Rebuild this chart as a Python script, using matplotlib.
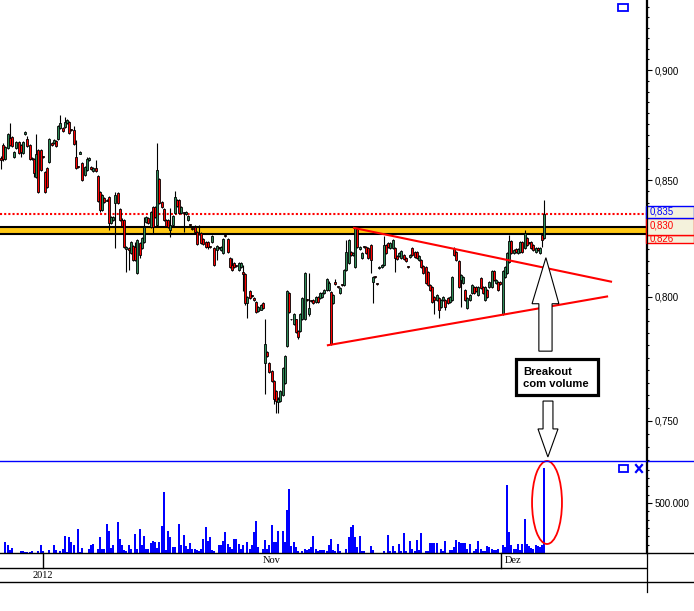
import matplotlib
matplotlib.use('Agg')
import matplotlib.pyplot as plt
import matplotlib.transforms as mtransforms
from matplotlib.patches import Rectangle, Polygon, Ellipse
from matplotlib.lines import Line2D
from matplotlib.ticker import FixedLocator, FuncFormatter, NullFormatter
import numpy as np

# ---- candle data (price) ----
opens = [
    .8598, .8656, .8593, .8643, .8687, .8692, .8602, .8643, .8669, .8656,
    .8620, .8706, .8683, .8656, .8598, .8593, .8513, .8634, .8634, .8605,
    .8535, .8553, .8580, .8665, .8665, .8674, .8683, .8733, .8733, .8737,
    .8755, .8760, .8726, .8724, .8602, .8559, .8618, .8576, .8522, .8544,
    .8589, .8557, .8540, .8553, .8518, .8447, .8369, .8421, .8414, .8425,
    .8313, .8326, .8399, .8443, .8373, .8326, .8326, .8201, .8205, .8184,
    .8214, .8209, .8100, .8227, .8205, .8231, .8317, .8335, .8296, .8382,
    .8382, .8304, .8504, .8404, .8373, .8326, .8326, .8283, .8304, .8356,
    .8412, .8412, .8356, .8358, .8352, .8326, .8306, .8289, .8296, .8274,
    .8268, .8270, .8244, .8231, .8231, .8211, .8231, .8205, .8197, .8206,
    .8197, .8184, .8259, .8244, .8163, .8134, .8142, .8131, .8113,
    .8125, .8104, .8096, .7975, .8025, .8007, .7996, .7980, .7939, .7947,
    .7975, .7729, .7773, .7729, .7698, .7659, .7619, .7576, .7580,
    .7600, .7651, .7797, .8017, .7908, .7886, .7906, .7858, .7858, .7906,
    .7906, .7990, .7927, .7986, .7988, .7980, .8000, .7996, .8000, .8017,
    .8029, .8029, .8021, .7975, .8063, .8043, .8017, .8051, .8050, .8113,
    .8142, .8188, .8176, .8125, .8287, .8201, .8163, .8210, .8209,
    .8205, .8218, .8063, .8085, .8055, .8121, .8125, .8134, .8218,
    .8227, .8205, .8205, .8205, .8172, .8172, .8163, .8176,
    .8163, .8126, .8168, .8205, .8188, .8188, .8155, .8155, .8130,
    .8125, .8104, .8050, .8042, .8000, .7988, .7996, .7959, .7988, .7988,
    .7996, .7980, .7988, .8201, .8188, .8151, .8071, .8058, .8029, .7955,
    .7988, .8017, .8042, .8042, .8009, .8080, .8042, .7988, .8029, .8042,
    .8042, .8109, .8058, .8063, .8063, .7927, .8084, .8100, .8147,
    .8235, .8184, .8201, .8184, .8188, .8231, .8205, .8248,
    .8228, .8231, .8218, .8188, .8205, .8184, .8261, .8248,
]
highs = [
    .8607, .8665, .8651, .8710, .8756, .8696, .8629, .8674, .8674, .8660,
    .8674, .8719, .8696, .8660, .8602, .8598, .8706, .8638, .8638, .8607,
    .8540, .8557, .8687, .8669, .8683, .8678, .8746, .8792, .8737, .8783,
    .8774, .8764, .8728, .8741, .8678, .8562, .8629, .8580, .8562, .8602,
    .8602, .8562, .8557, .8589, .8522, .8452, .8439, .8425, .8417, .8430,
    .8343, .8343, .8447, .8447, .8378, .8335, .8330, .8214, .8209, .8235,
    .8218, .8231, .8244, .8231, .8253, .8339, .8343, .8339, .8365, .8387,
    .8387, .8665, .8509, .8408, .8378, .8330, .8330, .8378, .8348, .8452,
    .8417, .8417, .8387, .8360, .8365, .8348, .8309, .8292, .8304, .8279,
    .8304, .8274, .8248, .8235, .8235, .8214, .8261, .8209, .8218, .8209,
    .8214, .8248, .8266, .8248, .8168, .8163, .8147, .8134, .8147,
    .8147, .8134, .8100, .8004, .8029, .8009, .8000, .7984, .7963, .7971,
    .7980, .7906, .7777, .7733, .7702, .7663, .7623, .7592, .7623,
    .7714, .7761, .8029, .8021, .7910, .7931, .7910, .7862, .7931, .8000,
    .8104, .7992, .8100, .7988, .7992, .8004, .8004, .8021, .8021, .8033,
    .8080, .8067, .8025, .8013, .8075, .8046, .8042, .8054, .8117, .8240,
    .8244, .8193, .8188, .8300, .8292, .8214, .8188, .8214, .8214,
    .8209, .8222, .8088, .8088, .8058, .8130, .8138, .8257, .8222,
    .8231, .8231, .8244, .8209, .8176, .8188, .8197, .8180,
    .8168, .8130, .8180, .8209, .8193, .8193, .8176, .8159, .8134,
    .8130, .8109, .8054, .8046, .8004, .8013, .8000, .7992, .8004, .7992,
    .8000, .8004, .8088, .8209, .8193, .8155, .8096, .8088, .8033, .8000,
    .8013, .8054, .8046, .8046, .8046, .8084, .8046, .8046, .8033, .8067,
    .8113, .8113, .8075, .8067, .8067, .8113, .8130, .8188, .8261,
    .8240, .8201, .8205, .8205, .8235, .8235, .8283, .8253,
    .8231, .8235, .8222, .8209, .8209, .8209, .8266, .8412,
]
lows = [
    .8548, .8585, .8589, .8638, .8652, .8647, .8598, .8638, .8615, .8602,
    .8615, .8701, .8647, .8589, .8589, .8513, .8509, .8443, .8540, .8598,
    .8443, .8465, .8576, .8652, .8660, .8647, .8678, .8728, .8715, .8733,
    .8751, .8706, .8719, .8656, .8548, .8553, .8615, .8495, .8518, .8540,
    .8585, .8544, .8535, .8535, .8404, .8360, .8365, .8400, .8408, .8283,
    .8309, .8322, .8205, .8395, .8322, .8296, .8205, .8104, .8113, .8180,
    .8151, .8151, .8096, .8163, .8201, .8227, .8313, .8309, .8292, .8270,
    .8335, .8300, .8395, .8378, .8322, .8296, .8292, .8253, .8300, .8352,
    .8382, .8352, .8352, .8274, .8348, .8322, .8300, .8283, .8270, .8218,
    .8261, .8222, .8218, .8205, .8201, .8205, .8227, .8130, .8155, .8201,
    .8193, .8180, .8253, .8184, .8121, .8109, .8121, .8125, .8109,
    .8121, .8025, .7967, .7914, .7992, .8000, .7984, .7931, .7935, .7943,
    .7951, .7607, .7753, .7690, .7655, .7568, .7530, .7530, .7576,
    .7596, .7647, .7793, .7931, .7902, .7882, .7850, .7825, .7854, .7902,
    .7902, .7984, .7919, .7980, .7971, .7975, .7975, .7992, .7996, .8013,
    .8025, .8025, .7801, .7971, .8050, .8038, .8013, .8046, .8046, .8109,
    .8138, .8172, .8172, .8121, .8205, .8197, .8159, .8205, .8180,
    .8159, .8100, .7975, .8080, .8050, .8117, .8121, .8130, .8180,
    .8205, .8201, .8201, .8104, .8155, .8168, .8159, .8155,
    .8147, .8121, .8163, .8172, .8163, .8159, .8151, .8121, .8096,
    .8054, .8046, .8025, .7975, .7927, .7984, .7914, .7955, .7984, .7947,
    .7971, .7975, .7984, .8172, .8151, .8038, .7959, .8054, .7984, .7951,
    .7984, .8013, .8013, .8021, .8004, .8033, .8013, .7984, .7996, .8038,
    .8038, .8067, .8054, .8025, .8050, .7923, .8080, .8096, .8142,
    .8180, .8180, .8184, .8180, .8184, .8184, .8201, .8214,
    .8222, .8201, .8193, .8184, .8193, .8180, .8209, .8244,
]
closes = [
    .8589, .8593, .8647, .8706, .8656, .8652, .8625, .8669, .8620, .8625,
    .8669, .8714, .8652, .8593, .8593, .8531, .8616, .8447, .8544, .8602,
    .8447, .8469, .8683, .8656, .8678, .8652, .8741, .8755, .8719, .8760,
    .8770, .8710, .8724, .8660, .8553, .8557, .8625, .8500, .8557, .8593,
    .8598, .8548, .8553, .8540, .8408, .8369, .8434, .8404, .8410, .8313,
    .8339, .8339, .8434, .8399, .8326, .8300, .8209, .8209, .8197, .8231,
    .8155, .8155, .8240, .8176, .8248, .8296, .8339, .8313, .8360, .8296,
    .8339, .8544, .8399, .8382, .8326, .8300, .8296, .8304, .8343, .8425,
    .8387, .8356, .8382, .8356, .8360, .8343, .8304, .8287, .8274, .8222,
    .8266, .8227, .8222, .8209, .8209, .8209, .8257, .8134, .8214, .8205,
    .8209, .8244, .8257, .8188, .8125, .8113, .8125, .8130, .8142,
    .8142, .8096, .7975, .8000, .7996, .8004, .7988, .7935, .7959, .7967,
    .7955, .7805, .7757, .7694, .7659, .7588, .7580, .7588, .7619,
    .7710, .7757, .8025, .7935, .7906, .7927, .7854, .7834, .7927, .7996,
    .8100, .7988, .7955, .7984, .7975, .8000, .7980, .8017, .8017, .8029,
    .8075, .8058, .7805, .8009, .8054, .8042, .8038, .8050, .8113, .8188,
    .8240, .8176, .8184, .8291, .8209, .8209, .8184, .8209, .8184,
    .8163, .8155, .8084, .8084, .8054, .8125, .8134, .8218, .8184,
    .8209, .8227, .8240, .8163, .8159, .8184, .8193, .8159,
    .8151, .8125, .8176, .8176, .8168, .8163, .8172, .8125, .8100,
    .8058, .8050, .8029, .7980, .7988, .8009, .7947, .7988, .8000, .7959,
    .7975, .8000, .8084, .8176, .8155, .8042, .8092, .8084, .7988, .7996,
    .8009, .8050, .8017, .8025, .8042, .8038, .8017, .8042, .8000, .8063,
    .8109, .8071, .8071, .8029, .8054, .8109, .8125, .8184, .8235,
    .8184, .8197, .8188, .8201, .8231, .8188, .8270, .8218,
    .8227, .8205, .8197, .8205, .8197, .8205, .8240, .8352,
]
# volume, thousands of shares
volume_k = [
    0, 0, 110, 80, 30, 50, 0, 0, 0, 20,
    20, 15, 10, 12, 20, 0, 0, 20, 80, 20,
    0, 0, 30, 0, 80, 30, 0, 20, 40,
    170, 15, 160, 110, 80, 0, 240, 15, 50, 0,
    0, 43, 80, 90, 0, 43, 160, 43, 40, 290,
    220, 53, 80, 0, 310, 140, 77, 30, 20,
    80, 43, 0, 190, 43, 240, 80, 170, 43, 43,
    100, 123, 110, 50, 107, 273, 607, 33, 217,
    157, 57, 57, 0, 293, 83, 177, 67, 40, 100,
    43, 40, 33, 23, 40, 143, 257, 117, 157,
    33, 23, 0, 83, 77, 123, 207, 90, 57, 40,
    143, 143, 90, 43, 77, 0, 110, 43, 77, 207,
    317, 57, 0, 43, 133, 43, 77, 277, 107,
    110, 223, 0, 217, 110, 433, 643, 67, 110, 63,
    23, 0, 17, 40, 33, 40, 57, 173, 43, 23,
    33, 33, 33, 17, 77, 143, 33, 17, 90,
    17, 0, 0, 40, 157, 257, 283, 157, 57, 167,
    23, 17, 0, 0, 73, 33, 0, 0,
    0, 0, 23, 0, 183, 17, 73, 23, 0, 93,
    17, 200, 23, 0, 117, 40, 23, 133, 33, 200,
    0, 23, 23, 100, 100, 100, 100, 0, 43,
    23, 123, 0, 33, 33, 57, 133, 110, 100, 100,
    100, 43, 90, 0, 23, 43, 123, 40, 17, 23,
    67, 57, 43, 33, 33, 40, 0, 77, 57,
    683, 210, 77, 40, 40, 90, 27, 90, 343,
    90, 67, 50, 40, 77, 67, 57, 83, 850,
]

# levels and drawing annotations
price_ticks = [0.75, 0.80, 0.85, 0.90]
resist_dotted = 0.835
band_edges = [0.8263, 0.8295]
upper_tl_x = [160.5, 277.3]
upper_tl_y = [0.8291, 0.8063]
lower_tl_x = [148.6, 275.5]
lower_tl_y = [0.7801, 0.8001]
date_labels = ['2012', 'Nov', 'Dez']
date_pos = [19.1, 123.2, 227.3]

W, H = 694, 611
fig = plt.figure(figsize=(W / 100, H / 100), dpi=100)
fig.patch.set_facecolor('white')


def fx(px):
    return px / W


def fy(py):
    return 1 - py / H


ax = fig.add_axes([0, fy(461), fx(646), 461 / H])
axv = fig.add_axes([0, fy(553), fx(646), 92 / H])

o = np.array(opens)
hi = np.array(highs)
lo = np.array(lows)
c = np.array(closes)
xs = np.arange(len(o))
xlim = (-0.455, 293.2)

TICKFONT = dict(family='Liberation Sans', size=7)

# ---- price panel ----
ax.set_yscale('log')
ax.set_xlim(*xlim)
ax.set_ylim(0.73456, 0.93334)

ax.axhspan(band_edges[0], band_edges[1], color='#FFC814', lw=0, zorder=1)
for b in band_edges:
    ax.axhline(b, color='black', lw=1.5, zorder=1.5)
ax.axhline(resist_dotted, color='#FF0000', lw=1.5, ls=(0, (1, 1)), zorder=1.5)

up = c >= o
colors = np.where(up, '#2E8B57', '#FF0000')
ax.vlines(xs, lo, hi, color='black', lw=0.8, zorder=2)
body_low = np.minimum(o, c)
body_h = np.maximum(np.abs(c - o), 0.0003)
ax.bar(xs, body_h, bottom=body_low, width=0.95, color=colors,
       edgecolor='black', linewidth=0.6, zorder=3)

ax.plot(upper_tl_x, upper_tl_y, color='#FF0000', lw=1.5, zorder=4, clip_on=False)
ax.plot(lower_tl_x, lower_tl_y, color='#FF0000', lw=1.5, zorder=4, clip_on=False)

# hollow arrows and text box
up_arrow = [(244.5, .7777), (250.5, .7777), (250.5, .7971), (253.6, .7971),
            (247.7, .8164), (241.4, .7971), (244.5, .7971)]
ax.add_patch(Polygon(up_arrow, closed=True, facecolor='white',
                     edgecolor='black', lw=0.8, zorder=5))
down_arrow = [(246.4, .7578), (250.9, .7578), (250.9, .7469), (253.2, .7469),
              (248.6, .7361), (244.1, .7469), (246.4, .7469)]
ax.add_patch(Polygon(down_arrow, closed=True, facecolor='white',
                     edgecolor='black', lw=0.8, zorder=5, clip_on=False))
ax.add_patch(Rectangle((234.1, 0.7600), 37.3, 0.7745 - 0.7600,
                       facecolor='white', edgecolor='black', lw=2.3, zorder=6))
ax.text(237.3, 0.7671, 'Breakout\ncom volume', ha='left', va='center',
        family='Liberation Sans', weight='bold', size=8.1, linespacing=1.25,
        zorder=7)

for s in ['left', 'top', 'bottom']:
    ax.spines[s].set_visible(False)
ax.spines['right'].set_linewidth(0.9)
ax.set_xticks([])
ax.yaxis.tick_right()
ax.yaxis.set_major_locator(FixedLocator(price_ticks))
ax.yaxis.set_minor_locator(FixedLocator(np.arange(0.735, 0.935, 0.005)))
ax.yaxis.set_major_formatter(FuncFormatter(lambda v, p: f'{v:.3f}'.replace('.', ',')))
ax.yaxis.set_minor_formatter(NullFormatter())
ax.tick_params(axis='y', which='major', length=4, width=0.8, pad=2.5)
ax.tick_params(axis='y', which='minor', length=2.4, width=0.8)
for t in ax.get_yticklabels():
    t.set_fontfamily(TICKFONT['family'])
    t.set_fontsize(TICKFONT['size'])

# price labels on the right scale
blend = mtransforms.blended_transform_factory(fig.transFigure, ax.transData)
low_box = Rectangle((fx(646), 0.8225), fx(694) - fx(646), 0.8261 - 0.8225,
                    transform=blend, facecolor='#F4F2DC', edgecolor='red',
                    lw=1, clip_on=False, zorder=10)
ax.add_patch(low_box)
t_low = ax.text(fx(650), 0.8247, '0,826', transform=blend, color='red',
                va='center', zorder=11, **TICKFONT)
t_low.set_clip_path(low_box)
ax.add_patch(Rectangle((fx(646), 0.8261), fx(694) - fx(646), 0.8336 - 0.8261,
                       transform=blend, facecolor='#F4F2DC', edgecolor='red',
                       lw=1, clip_on=False, zorder=12))
ax.text(fx(650), 0.8301, '0,830', transform=blend, color='red', va='center',
        clip_on=False, zorder=13, **TICKFONT)
ax.add_patch(Rectangle((fx(646), 0.8336), fx(694) - fx(646), 0.8388 - 0.8336,
                       transform=blend, facecolor='#F4F2DC', edgecolor='blue',
                       lw=1, clip_on=False, zorder=14))
ax.text(fx(650), 0.8361, '0,835', transform=blend, color='blue', va='center',
        clip_on=False, zorder=15, **TICKFONT)

# ---- volume panel ----
vol = np.array(volume_k) * 1000
axv.bar(xs, vol, width=0.85, color='#0000FF', lw=0)
axv.set_xlim(*xlim)
axv.set_ylim(0, 920000)
axv.add_patch(Ellipse((248.2, 505000), 13.6, 830000, fill=False,
                      edgecolor='#FF0000', lw=1.3, clip_on=False, zorder=5))
for s in ['left', 'top', 'bottom']:
    axv.spines[s].set_visible(False)
axv.spines['right'].set_linewidth(0.9)
axv.set_xticks([])
axv.yaxis.tick_right()
axv.yaxis.set_major_locator(FixedLocator([500000]))
axv.yaxis.set_minor_locator(FixedLocator(np.arange(0, 920000, 500000 / 6)))
axv.yaxis.set_major_formatter(FuncFormatter(lambda v, p: f'{int(v):,}'.replace(',', '.')))
axv.yaxis.set_minor_formatter(NullFormatter())
axv.tick_params(axis='y', which='major', length=4, width=0.8, pad=2.5)
axv.tick_params(axis='y', which='minor', length=2.4, width=0.8)
for t in axv.get_yticklabels():
    t.set_fontfamily(TICKFONT['family'])
    t.set_fontsize(TICKFONT['size'])

# ---- frame lines, date rows, icons ----
lines = [
    ((0, 694), (461, 461), '#0000FF', 1.0),
    ((0, 694), (553, 553), 'black', 1.0),
    ((0, 646), (568, 568), 'black', 1.0),
    ((0, 694), (582, 582), 'black', 1.0),
    ((646.5, 646.5), (0, 592), 'black', 0.9),
]
for (x0, x1), (y0, y1), col, lw in lines:
    fig.add_artist(Line2D([fx(x0), fx(x1)], [fy(y0), fy(y1)], color=col, lw=lw,
                          transform=fig.transFigure))

dblend = mtransforms.blended_transform_factory(axv.transData, fig.transFigure)
DATEFONT = dict(family='Liberation Serif', size=7.5)
for lab, pos in zip(date_labels, date_pos):
    if lab == '2012':
        fig.add_artist(Line2D([pos, pos], [fy(553), fy(568)], color='black',
                              lw=1, transform=dblend))
        fig.text(pos, fy(575), lab, transform=dblend, ha='center', va='center', **DATEFONT)
    elif lab == 'Dez':
        fig.add_artist(Line2D([pos, pos], [fy(553), fy(568)], color='black',
                              lw=1, transform=dblend))
        fig.text(pos + 1.8, fy(560.5), lab, transform=dblend, ha='left', va='center', **DATEFONT)
    else:
        fig.text(pos, fy(560.5), lab, transform=dblend, ha='center', va='center', **DATEFONT)

fig.add_artist(Rectangle((fx(618), fy(11)), fx(10), 7 / H, fill=False,
                         edgecolor='#0000FF', lw=1.3, transform=fig.transFigure))
fig.add_artist(Rectangle((fx(619), fy(472)), fx(9), 7 / H, fill=False,
                         edgecolor='#0000FF', lw=1.3, transform=fig.transFigure))
fig.add_artist(Line2D([fx(636), fx(642)], [fy(465), fy(472)], color='#0000FF',
                      lw=1.6, transform=fig.transFigure))
fig.add_artist(Line2D([fx(636), fx(642)], [fy(472), fy(465)], color='#0000FF',
                      lw=1.6, transform=fig.transFigure))

fig.savefig('out.png', dpi=100)
